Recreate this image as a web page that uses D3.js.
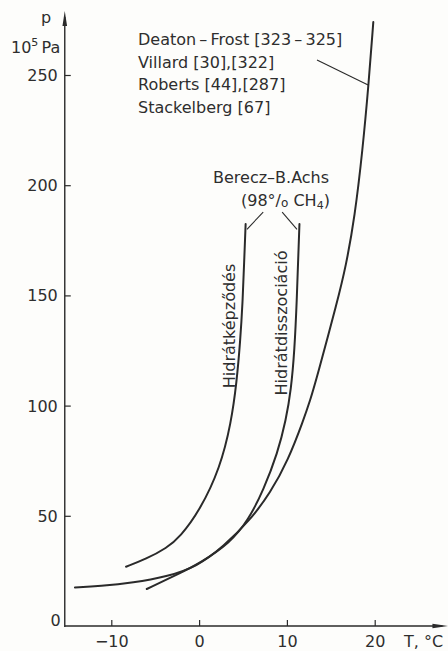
<!DOCTYPE html>
<html>
<head>
<meta charset="utf-8">
<script src="https://cdn.jsdelivr.net/npm/d3@7/dist/d3.min.js"></script>
<style>
  html, body { margin: 0; padding: 0; background: #fdfdfb; }
  svg { display: block; }
  text { font-family: "DejaVu Sans", sans-serif; fill: #2e2e2e; }
</style>
</head>
<body>
<svg id="chart" width="448" height="651"></svg>
<script>
// Axis ticks: temperature in °C, pressure in 10^5 Pa
const tempTicks = [-10, 0, 10, 20];
const presTicks = [0, 50, 100, 150, 200, 250];

// Deaton–Frost / Villard / Roberts / Stackelberg hydrate equilibrium curve
const deatonT = [-14.14, -11.29, -7.49, -3.68, -0.26, 2.77, 5.82, 8.10, 10.15, 11.89, 12.66, 13.34, 15.79, 16.70, 17.73, 18.62, 19.30, 19.84];
const deatonP = [17.5, 18.1, 19.6, 22.4, 26.9, 36.0, 48.1, 60.3, 75.3, 93.5, 102.5, 111.6, 147.9, 162.9, 185.6, 216.0, 245.5, 274.0];

// Berecz–B.Achs (98% CH4): hydrate formation
const formT = [-8.32, -6.04, -3.68, -2.17, 0.11, 2.39, 3.65, 4.28, 4.68, 4.96, 5.13, 5.30];
const formP = [26.9, 30.4, 35.4, 40.4, 52.6, 71.7, 92.1, 110.7, 128.9, 147.0, 165.2, 182.4];

// Berecz–B.Achs (98% CH4): hydrate dissociation
const dissT = [-5.96, -2.17, 0.11, 3.53, 5.62, 7.33, 8.95, 9.89, 10.47, 10.87, 11.13, 11.32, 11.43];
const dissP = [16.8, 24.0, 28.6, 37.7, 48.1, 61.7, 78.5, 93.5, 107.1, 125.2, 147.9, 170.6, 182.4];

const legendLines = ["Deaton\u2009\u2013\u2009Frost [323\u2009\u2013\u2009325]", "Villard [30],[322]", "Roberts [44],[287]", "Stackelberg [67]"];

const svg = d3.select("#chart");
const ink = "#2a2a2a";

const x = d3.scaleLinear().domain([-10, 20]).range([111.3, 374.7]);
const y = d3.scaleLinear().domain([0, 250]).range([626, 75]);

const tMin = -15.3, tMax = 28.4, pMax = 279;
const x0 = x(tMin), y0 = y(0);

// Axes
const yAxis = d3.axisLeft(y).tickValues(presTicks).tickSize(-6).tickPadding(7);
const gy = svg.append("g").attr("transform", `translate(${x0},0)`).call(yAxis);
gy.select(".domain").remove();
gy.selectAll(".tick line").attr("stroke", ink).attr("stroke-width", 1.2);
gy.selectAll(".tick text")
  .attr("font-size", 16).attr("font-family", "DejaVu Sans").attr("fill", "#2e2e2e")
  .attr("dy", d => d === 0 ? "-0.05em" : "0.34em")
  .attr("x", d => d === 0 ? -4 : -7);
gy.selectAll(".tick").filter(d => d === 0).select("line").remove();

const xAxis = d3.axisBottom(x).tickValues(tempTicks).tickSize(-6).tickPadding(0);
const gx = svg.append("g").attr("transform", `translate(0,${y0})`).call(xAxis);
gx.select(".domain").remove();
gx.selectAll(".tick line").attr("stroke", ink).attr("stroke-width", 1.2);
gx.selectAll(".tick text")
  .attr("font-size", 16).attr("font-family", "DejaVu Sans").attr("fill", "#2e2e2e")
  .attr("y", 21).attr("dy", 0)
  .text(d => d < 0 ? "\u2212" + Math.abs(d) : d);

// Axis lines with arrow heads
svg.append("line").attr("x1", x0).attr("x2", x(tMax) - 6).attr("y1", y0).attr("y2", y0)
  .attr("stroke", ink).attr("stroke-width", 1.4);
svg.append("line").attr("x1", x0).attr("x2", x0).attr("y1", y0 + 1).attr("y2", y(pMax) + 6)
  .attr("stroke", ink).attr("stroke-width", 1.4);
svg.append("path")
  .attr("d", `M${x(tMax)},${y0} L${x(tMax) - 16},${y0 - 2.3} L${x(tMax) - 16},${y0 + 2.3} Z`)
  .attr("fill", ink);
svg.append("path")
  .attr("d", `M${x0},${y(pMax)} L${x0 - 2.3},${y(pMax) + 15} L${x0 + 2.3},${y(pMax) + 15} Z`)
  .attr("fill", ink);

// Axis titles
svg.append("text").attr("font-size", 16).attr("x", 41).attr("y", 23).text("p");
const uLab = svg.append("text").attr("font-size", 16).attr("x", 11).attr("y", 53);
uLab.append("tspan").text("10");
uLab.append("tspan").attr("font-size", 11).attr("dy", -7).text("5");
uLab.append("tspan").attr("dy", 7).text("\u2009Pa");
svg.append("text").attr("font-size", 16).attr("x", 404).attr("y", 647).text("T, \u00B0C");

// Curves (B-spline through the read-off points for a smooth drawn line)
const line = d3.line().x(d => x(d[0])).y(d => y(d[1])).curve(d3.curveBasis);
const series = [
  d3.zip(deatonT, deatonP),
  d3.zip(formT, formP),
  d3.zip(dissT, dissP)
];
svg.append("g").selectAll("path").data(series).join("path")
  .attr("d", line)
  .attr("fill", "none")
  .attr("stroke", ink)
  .attr("stroke-width", 2)
  .attr("stroke-linecap", "round");

// Legend block with leader to the equilibrium curve
svg.append("g").selectAll("text").data(legendLines).join("text")
  .attr("font-size", 16)
  .attr("x", 138)
  .attr("y", (d, i) => 45 + i * 22.5)
  .text(d => d);

const leaders = [
  [[13.43, 256.8], [19.25, 245.5]],
  [[7.30, 187.8], [5.45, 180.0]],
  [[9.46, 187.8], [11.15, 180.0]]
];
svg.append("g").selectAll("line").data(leaders).join("line")
  .attr("x1", d => x(d[0][0])).attr("y1", d => y(d[0][1]))
  .attr("x2", d => x(d[1][0])).attr("y2", d => y(d[1][1]))
  .attr("stroke", ink).attr("stroke-width", 1.1);

// Berecz–B.Achs caption
svg.append("text").attr("font-size", 16).attr("x", 213).attr("y", 183).text("Berecz\u2013B.Achs");
const cap = svg.append("text").attr("font-size", 16).attr("x", 241).attr("y", 206);
cap.append("tspan").text("(98\u00B0/");
cap.append("tspan").attr("font-size", 12).attr("dy", 1).text("o");
cap.append("tspan").attr("dy", -1).text(" CH");
cap.append("tspan").attr("font-size", 11).attr("dy", 3).text("4");
cap.append("tspan").attr("dy", -3).text(")");

// Rotated curve labels
svg.append("text").attr("font-size", 16).attr("text-anchor", "middle")
  .attr("transform", "translate(235,326) rotate(-90)")
  .text("Hidrátképződés");
svg.append("text").attr("font-size", 16).attr("text-anchor", "middle")
  .attr("transform", "translate(287,323) rotate(-90)")
  .text("Hidrátdisszociáció");
</script>
</body>
</html>
